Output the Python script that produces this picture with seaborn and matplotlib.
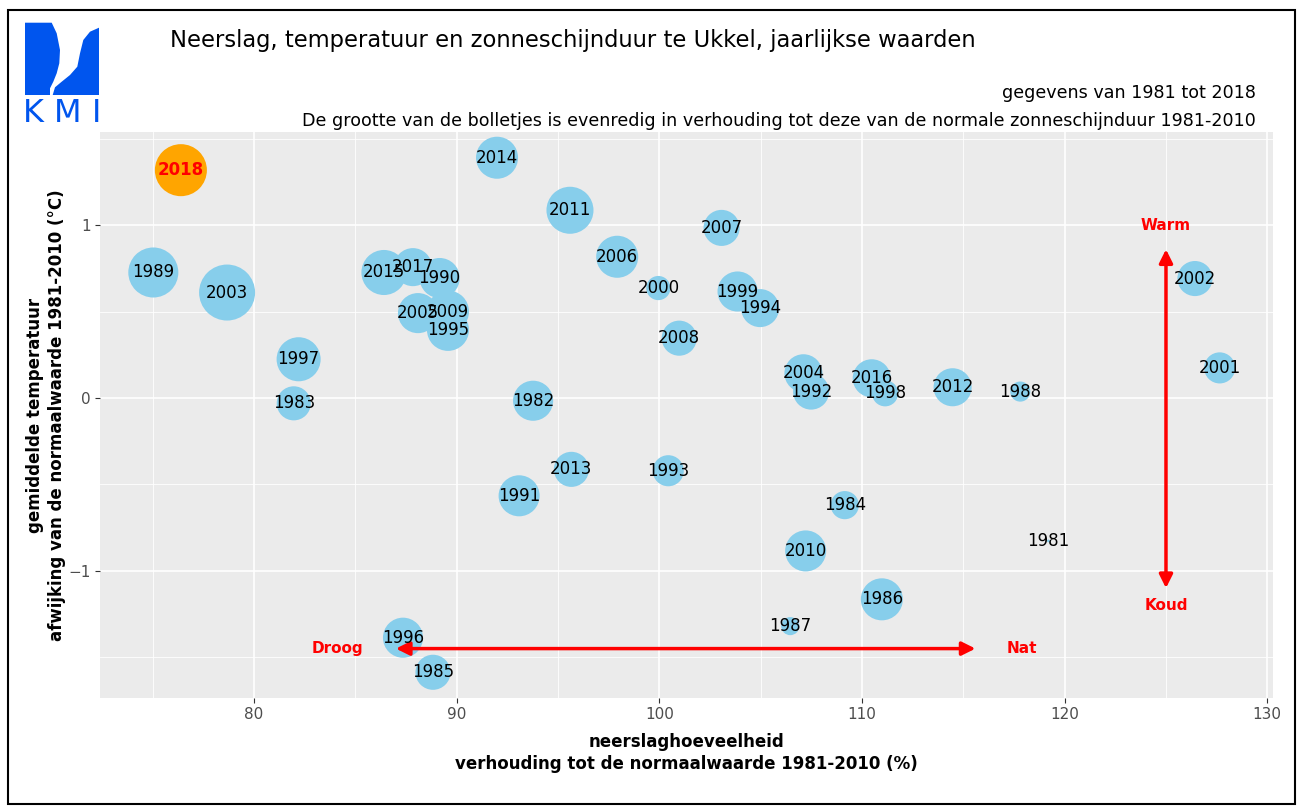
import matplotlib
matplotlib.use("Agg")
import matplotlib.pyplot as plt
from matplotlib.patches import Polygon, Rectangle
import pandas as pd
import seaborn as sns

# jaarlijkse waarden Ukkel
years = list(range(1981, 2019))
neerslag = [119.2, 93.77, 81.96, 109.15, 88.83, 110.98, 106.46, 117.81, 75.03, 89.16,
            93.08, 107.49, 100.44, 104.97, 89.57, 87.35, 82.2, 111.14, 103.86, 99.95,
            127.65, 126.43, 78.67, 107.11, 88.09, 97.92, 103.07, 100.98, 89.57, 107.22,
            95.59, 114.47, 95.66, 91.99, 86.41, 110.48, 87.84, 76.39]
temperatuur = [-0.827, -0.016, -0.031, -0.62, -1.587, -1.165, -1.32, 0.037, 0.726, 0.694,
               -0.566, 0.037, -0.421, 0.52, 0.394, -1.387, 0.224, 0.027, 0.616, 0.636,
               0.174, 0.691, 0.61, 0.143, 0.491, 0.817, 0.984, 0.346, 0.5, -0.885,
               1.086, 0.062, -0.413, 1.39, 0.726, 0.114, 0.757, 1.318]
zonneschijn = [80.0, 103.0, 96.6, 91.3, 97.6, 105.3, 84.6, 85.7, 115.9, 103.0,
               104.1, 98.6, 93.8, 100.7, 105.3, 103.0, 107.8, 89.7, 103.0, 88.3,
               93.8, 97.6, 125.0, 100.7, 103.0, 105.3, 98.6, 97.6, 105.3, 104.1,
               111.7, 100.7, 97.6, 105.3, 109.1, 100.7, 100.7, 118.8]
highlight = 2018

df = pd.DataFrame({"jaar": years, "neerslag": neerslag,
                   "temperatuur": temperatuur, "zon": zonneschijn})
df["huidig"] = df["jaar"] == highlight

W, H = 1302, 806
fig = plt.figure(figsize=(W / 100, H / 100), dpi=100)
plt.rcParams["font.family"] = ["DejaVu Sans"]

# frame round the whole figure
fig.add_artist(Rectangle((8 / W, 1 - 804 / H), 1287 / W, 794 / H, transform=fig.transFigure,
                         fill=False, edgecolor="black", linewidth=1.5))

ax = fig.add_axes([100 / W, 1 - 698 / H, 1173 / W, 566 / H])
ax.set_facecolor("#EBEBEB")
for s in ax.spines.values():
    s.set_visible(False)

sns.scatterplot(data=df, x="neerslag", y="temperatuur", size="zon", hue="huidig",
                palette={False: "#87CEEB", True: "#FFA500"}, sizes=(4, 1626),
                size_norm=(min(zonneschijn), max(zonneschijn)), edgecolor="none",
                linewidth=0, legend=False, ax=ax, zorder=3)

for _, r in df.iterrows():
    if r["huidig"]:
        ax.text(r["neerslag"], r["temperatuur"], str(r["jaar"]), ha="center", va="center",
                fontsize=12, color="red", fontweight="bold", zorder=5)
    else:
        ax.text(r["neerslag"], r["temperatuur"], str(r["jaar"]), ha="center", va="center",
                fontsize=12, color="black", zorder=5)

# ggplot-like expansion of 5%
xr = max(neerslag) - min(neerslag)
yr = max(temperatuur) - min(temperatuur)
ax.set_xlim(min(neerslag) - 0.05 * xr, max(neerslag) + 0.05 * xr)
ax.set_ylim(min(temperatuur) - 0.05 * yr, max(temperatuur) + 0.05 * yr)

ax.set_xticks([80, 90, 100, 110, 120, 130])
ax.set_xticks([75, 85, 95, 105, 115, 125], minor=True)
ax.set_yticks([-1, 0, 1])
ax.set_yticks([-1.5, -0.5, 0.5, 1.5], minor=True)
ax.grid(which="major", color="white", linewidth=1.2, zorder=0)
ax.grid(which="minor", color="white", linewidth=0.6, zorder=0)
ax.set_axisbelow(True)
ax.tick_params(which="major", length=3.5, width=0.8, color="#333333", labelcolor="#4D4D4D",
               labelsize=11, pad=3)
ax.tick_params(which="minor", length=0)

ax.set_xlabel("neerslaghoeveelheid\nverhouding tot de normaalwaarde 1981-2010 (%)",
              fontsize=12, fontweight="bold", linespacing=1.25)
ax.set_ylabel("gemiddelde temperatuur\nafwijking van de normaalwaarde 1981-2010 (°C)",
              fontsize=12, fontweight="bold", linespacing=1.25)
ax.xaxis.set_label_coords(0.5, -0.062)
ax.yaxis.set_label_coords(-0.029, 0.5)

# droog / nat en warm / koud pijlen
ax.annotate("", xy=(87.0, -1.45), xytext=(115.6, -1.45),
            arrowprops=dict(arrowstyle="<|-|>", color="red", lw=2.5, mutation_scale=20,
                            shrinkA=0, shrinkB=0), zorder=4)
ax.annotate("", xy=(125, 0.86), xytext=(125, -1.1),
            arrowprops=dict(arrowstyle="<|-|>", color="red", lw=2.5, mutation_scale=20,
                            shrinkA=0, shrinkB=0), zorder=4)
for lx, ly, lab in [(84.1, -1.45, "Droog"), (117.9, -1.45, "Nat"),
                    (125, 1.0, "Warm"), (125, -1.2, "Koud")]:
    ax.text(lx, ly, lab, color="red", fontsize=11, fontweight="bold",
            ha="center", va="center", zorder=5)

# titels
fig.text(170 / W, 1 - 40 / H, "Neerslag, temperatuur en zonneschijnduur te Ukkel, jaarlijkse waarden",
         fontsize=16.3, ha="left", va="center")
fig.text(1256 / W, 1 - 93 / H, "gegevens van 1981 tot 2018", fontsize=12.6, ha="right", va="center")
fig.text(1256 / W, 1 - 121 / H,
         "De grootte van de bolletjes is evenredig in verhouding tot deze van de normale zonneschijnduur 1981-2010",
         fontsize=12.6, ha="right", va="center")

# KMI logo
lg = fig.add_axes([25 / W, 1 - 122 / H, 75 / W, 100 / H])
lg.set_xlim(0, 75)
lg.set_ylim(100, 0)
lg.axis("off")
blue = "#0055EE"
lg.add_patch(Polygon([(0, 0.7), (26.7, 0.7), (31.7, 11.3), (35, 28), (34.3, 41.3), (31.7, 51.3),
                      (28.3, 59.7), (25, 66.3), (25, 73), (0, 73)], closed=True,
                     facecolor=blue, edgecolor="none"))
lg.add_patch(Polygon([(74, 5.7), (74, 73), (27.7, 73), (30, 65.3), (36.7, 59.7), (45, 53),
                      (52.3, 44.7), (55, 31.3), (58.3, 18), (65, 9.7)], closed=True,
                     facecolor=blue, edgecolor="none"))
for tx, t in [(8.5, "K"), (42.5, "M"), (71.5, "I")]:
    lg.text(tx, 99.7, t, color=blue, fontsize=23, ha="center", va="baseline")

fig.savefig("out.png", dpi=100)
